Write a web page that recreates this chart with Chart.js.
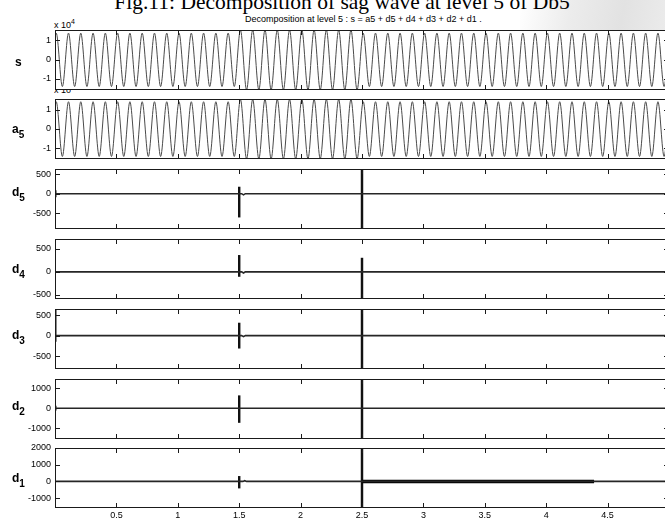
<!DOCTYPE html>
<html>
<head>
<meta charset="utf-8">
<script src="https://cdn.jsdelivr.net/npm/chart.js@4.4.1/dist/chart.umd.min.js"></script>
<style>
  html, body { margin: 0; padding: 0; background: #fff; }
  #page { position: relative; width: 665px; height: 521px; overflow: hidden; background: #fff; }
  #page canvas { position: absolute; left: 0; }
  .txt { position: absolute; white-space: nowrap; color: #000; }
  .lbl { position: absolute; font-family: "Liberation Sans", Arial, sans-serif; font-weight: bold; font-size: 12px; line-height: 12px; }
  .lbl sub { font-size: 10px; vertical-align: -5px; }
  .narrow { font-family: "Liberation Sans Narrow", "Arial Narrow", "Liberation Sans", sans-serif; font-size: 9px; line-height: 10px; }
</style>
</head>
<body>
<div id="page">
  <div class="txt" style="left:520px;top:0;width:145px;height:30px;background:linear-gradient(100deg,#fff 0%,#ececec 35%,#e2e2e2 70%,#ebebeb 100%);"></div>
  <div class="txt" style="left:0;width:684px;top:-8px;text-align:center;font-family:'Liberation Serif','Times New Roman',serif;font-size:21.5px;line-height:20px;">Fig.11: Decomposition of sag wave at level 5 of Db5</div>
  <div class="txt narrow" style="left:245px;top:14px;">Decomposition at level 5 : s = a5 + d5 + d4 + d3 + d2 + d1 .</div>
  <div class="txt narrow" style="left:54px;top:17px;">x 10<sup style="font-size:7px;vertical-align:4px;">4</sup></div>
  <div class="txt narrow" style="left:54px;top:90px;height:3px;overflow:hidden;"><div style="margin-top:-5px;">x 10</div></div>
</div>
<script>
// sine wave extremes (x in 10^4 samples, y in 10^4)
const peakTimes = [0.01,0.11,0.21,0.31,0.41,0.51,0.61,0.71,0.81,0.91,1.01,1.11,1.21,1.31,1.41,1.51,1.61,1.71,1.81,1.91,2.01,2.11,2.21,2.31,2.41,2.51,2.61,2.71,2.81,2.91,3.01,3.11,3.21,3.31,3.41,3.51,3.61,3.71,3.81,3.91,4.01,4.11,4.21,4.31,4.41,4.51,4.61,4.71,4.81,4.91];
const troughTimes = [0.06,0.16,0.26,0.36,0.46,0.56,0.66,0.76,0.86,0.96,1.06,1.16,1.26,1.36,1.46,1.56,1.66,1.76,1.86,1.96,2.06,2.16,2.26,2.36,2.46,2.56,2.66,2.76,2.86,2.96,3.06,3.16,3.26,3.36,3.46,3.56,3.66,3.76,3.86,3.96,4.06,4.16,4.26,4.36,4.46,4.56,4.66,4.76,4.86,4.96];

const sPeaks = [1.37,1.37,1.37,1.37,1.37,1.37,1.37,1.37,1.37,1.37,1.37,1.37,1.37,1.37,1.37,1.53,1.53,1.53,1.53,1.53,1.53,1.53,1.53,1.53,1.53,1.37,1.37,1.37,1.37,1.37,1.37,1.37,1.37,1.37,1.37,1.37,1.37,1.37,1.37,1.37,1.37,1.37,1.37,1.37,1.37,1.37,1.37,1.37,1.37,1.37];
const sTroughs = [-1.40,-1.40,-1.40,-1.40,-1.40,-1.40,-1.40,-1.40,-1.40,-1.40,-1.40,-1.40,-1.40,-1.40,-1.40,-1.57,-1.57,-1.57,-1.57,-1.57,-1.57,-1.57,-1.57,-1.57,-1.57,-1.40,-1.40,-1.40,-1.40,-1.40,-1.40,-1.40,-1.40,-1.40,-1.40,-1.40,-1.40,-1.40,-1.40,-1.40,-1.40,-1.40,-1.40,-1.40,-1.40,-1.40,-1.40,-1.40,-1.40,-1.40];
const sEnds = [1.1, 1.1];

const a5Peaks = [1.40,1.40,1.40,1.40,1.40,1.40,1.40,1.40,1.40,1.40,1.40,1.40,1.40,1.40,1.40,1.52,1.52,1.52,1.52,1.52,1.52,1.52,1.52,1.52,1.52,1.40,1.40,1.40,1.40,1.40,1.40,1.40,1.40,1.40,1.40,1.40,1.40,1.40,1.40,1.40,1.40,1.40,1.40,1.40,1.40,1.40,1.40,1.40,1.40,1.40];
const a5Troughs = [-1.41,-1.41,-1.41,-1.41,-1.41,-1.41,-1.41,-1.41,-1.41,-1.41,-1.41,-1.41,-1.41,-1.41,-1.41,-1.53,-1.53,-1.53,-1.53,-1.53,-1.53,-1.53,-1.53,-1.53,-1.53,-1.41,-1.41,-1.41,-1.41,-1.41,-1.41,-1.41,-1.41,-1.41,-1.41,-1.41,-1.41,-1.41,-1.41,-1.41,-1.41,-1.41,-1.41,-1.41,-1.41,-1.41,-1.41,-1.41,-1.41,-1.41];
const a5Ends = [1.12, 1.12];

// detail coefficients: baseline with small wiggles ...
const d5X = [0, 0.004, 0.008, 1.52, 1.535, 1.55, 5];
const d5Y = [90, -90, 0, 0, -30, 0, 0];
const d4X = [0, 1.52, 1.535, 1.55, 5];
const d4Y = [0, 0, -25, 0, 0];
const d3X = [0, 0.004, 0.008, 1.52, 1.535, 1.55, 5];
const d3Y = [700, -150, 0, 0, -25, 0, 0];
const d2X = [0, 0.004, 0.008, 5];
const d2Y = [120, -120, 0, 0];
const d1X = [0, 1.53, 1.545, 1.56, 5];
const d1Y = [0, 0, 40, 0, 0];
const d1NoiseX = [2.5, 4.39];
const d1NoiseY = [0, 0];

// ... and the spikes at the two disturbance instants (low, high)
const spikeX = [1.5, 2.5];
const d5Low = [-600, -1000], d5High = [170, 700];
const d4Low = [-100, -650], d4High = [360, 300];
const d3Low = [-305, -900], d3High = [305, 800];
const d2Low = [-710, -1700], d2High = [620, 1600];
const d1Low = [-400, -1700], d1High = [300, 2100];

const xTicks = [0.5, 1, 1.5, 2, 2.5, 3, 3.5, 4, 4.5];
const panelNames = ['s', 'a5', 'd5', 'd4', 'd3', 'd2', 'd1'];
const yRanges = [[-1.58, 1.53], [-1.54, 1.54], [-905, 633], [-592, 717], [-810, 646], [-1530, 1450], [-1594, 2000]];
const yTicks = [[-1, 0, 1], [-1, 0, 1], [-500, 0, 500], [-500, 0, 500], [-500, 0, 500], [-1000, 0, 1000], [-1000, 0, 1000, 2000]];

const panelTops = [30, 99, 169, 239, 309, 379, 448];
const labelTops = [56, 123, 186, 263, 329, 400, 472];
const panelH = 60;
const padV = 6;
const waveColor = '#4a4a4a';
const detailColor = '#262626';
const tickFont = { family: "'Liberation Sans Narrow', 'Arial Narrow', 'Liberation Sans', sans-serif", size: 9 };

function wavePoints(peaks, troughs, ends) {
  const pts = [{ x: 0, y: ends[0] }];
  for (let i = 0; i < peakTimes.length; i++) {
    pts.push({ x: peakTimes[i], y: peaks[i] });
    pts.push({ x: troughTimes[i], y: troughs[i] });
  }
  pts.push({ x: 5, y: ends[1] });
  return pts;
}

function pairs(xs, ys) {
  return xs.map((x, i) => ({ x: x, y: ys[i] }));
}

const frame = {
  id: 'frame',
  afterDraw(chart) {
    const ctx = chart.ctx, a = chart.chartArea;
    const xs = chart.scales.x, ys = chart.scales.y;
    const yt = chart.options.plugins.frame.ticks;
    ctx.save();
    ctx.strokeStyle = '#1a1a1a';
    ctx.lineWidth = 1;
    ctx.strokeRect(a.left + 0.5, a.top + 0.5, a.right - a.left - 1, a.bottom - a.top - 1);
    ctx.beginPath();
    xTicks.forEach(v => {
      const px = Math.round(xs.getPixelForValue(v)) + 0.5;
      ctx.moveTo(px, a.top); ctx.lineTo(px, a.top + 5);
      ctx.moveTo(px, a.bottom); ctx.lineTo(px, a.bottom - 5);
    });
    yt.forEach(v => {
      const py = Math.round(ys.getPixelForValue(v)) + 0.5;
      ctx.moveTo(a.left, py); ctx.lineTo(a.left + 5, py);
      ctx.moveTo(a.right, py); ctx.lineTo(a.right - 5, py);
    });
    ctx.stroke();
    ctx.restore();
  }
};

function makePanel(idx, datasets) {
  const last = idx === panelNames.length - 1;
  const cv = document.createElement('canvas');
  const padBottom = last ? 0 : padV;
  const h = panelH + padV + padBottom + (last ? 13 : 0);
  cv.width = 672; cv.height = h;
  cv.style.width = '672px'; cv.style.height = h + 'px';
  cv.style.top = (panelTops[idx] - padV) + 'px';
  document.getElementById('page').appendChild(cv);

  const lbl = document.createElement('div');
  lbl.className = 'lbl';
  const nm = panelNames[idx];
  lbl.innerHTML = nm.length > 1 ? nm[0] + '<sub>' + nm.slice(1) + '</sub>' : nm;
  lbl.style.left = (nm === 's' ? 15 : 12) + 'px';
  lbl.style.top = labelTops[idx] + 'px';
  document.getElementById('page').appendChild(lbl);

  new Chart(cv.getContext('2d'), {
    type: 'line',
    data: { datasets: datasets },
    plugins: [frame],
    options: {
      responsive: false,
      animation: false,
      events: [],
      layout: { padding: { left: 0, right: 3, top: padV, bottom: padBottom } },
      plugins: { legend: { display: false }, tooltip: { enabled: false }, frame: { ticks: yTicks[idx] } },
      elements: { point: { radius: 0 } },
      scales: {
        x: {
          type: 'linear', min: 0, max: 5, offset: false,
          display: last,
          grid: { display: false, drawTicks: false },
          border: { display: false },
          afterBuildTicks: s => { s.ticks = xTicks.map(v => ({ value: v })); },
          afterFit: s => { s.height = last ? 13 : 0; s.paddingLeft = 0; s.paddingRight = 0; },
          ticks: { font: tickFont, color: '#000', padding: 2, maxRotation: 0, autoSkip: false, callback: v => String(v) }
        },
        y: {
          type: 'linear', min: yRanges[idx][0], max: yRanges[idx][1],
          grid: { display: false, drawTicks: false },
          border: { display: false },
          afterBuildTicks: s => { s.ticks = yTicks[idx].map(v => ({ value: v })); },
          afterFit: s => { s.width = 55; s.paddingTop = 0; s.paddingBottom = 0; },
          ticks: { font: tickFont, color: '#000', padding: 4, callback: v => String(v) }
        }
      }
    }
  });
}

function waveSet(pts) {
  return { data: pts, borderColor: waveColor, borderWidth: 1, tension: 0, cubicInterpolationMode: 'monotone', clip: 0 };
}
function detailSet(pts, w, col) {
  return { data: pts, borderColor: col || detailColor, borderWidth: w || 1.6, tension: 0, clip: 0 };
}
// spikes as thin floating bars, so each one spans its full low..high range
function spikeSet(lows, highs) {
  return {
    type: 'bar',
    data: spikeX.map((x, i) => ({ x: x, y: [lows[i], highs[i]] })),
    backgroundColor: '#111',
    borderWidth: 0,
    barThickness: 1.8,
    grouped: false,
    clip: 0
  };
}

makePanel(0, [waveSet(wavePoints(sPeaks, sTroughs, sEnds))]);
makePanel(1, [waveSet(wavePoints(a5Peaks, a5Troughs, a5Ends))]);
makePanel(2, [detailSet(pairs(d5X, d5Y)), spikeSet(d5Low, d5High)]);
makePanel(3, [detailSet(pairs(d4X, d4Y)), spikeSet(d4Low, d4High)]);
makePanel(4, [detailSet(pairs(d3X, d3Y)), spikeSet(d3Low, d3High)]);
makePanel(5, [detailSet(pairs(d2X, d2Y)), spikeSet(d2Low, d2High)]);
makePanel(6, [detailSet(pairs(d1X, d1Y)), detailSet(pairs(d1NoiseX, d1NoiseY), 3.5, '#000'), spikeSet(d1Low, d1High)]);
</script>
</body>
</html>
